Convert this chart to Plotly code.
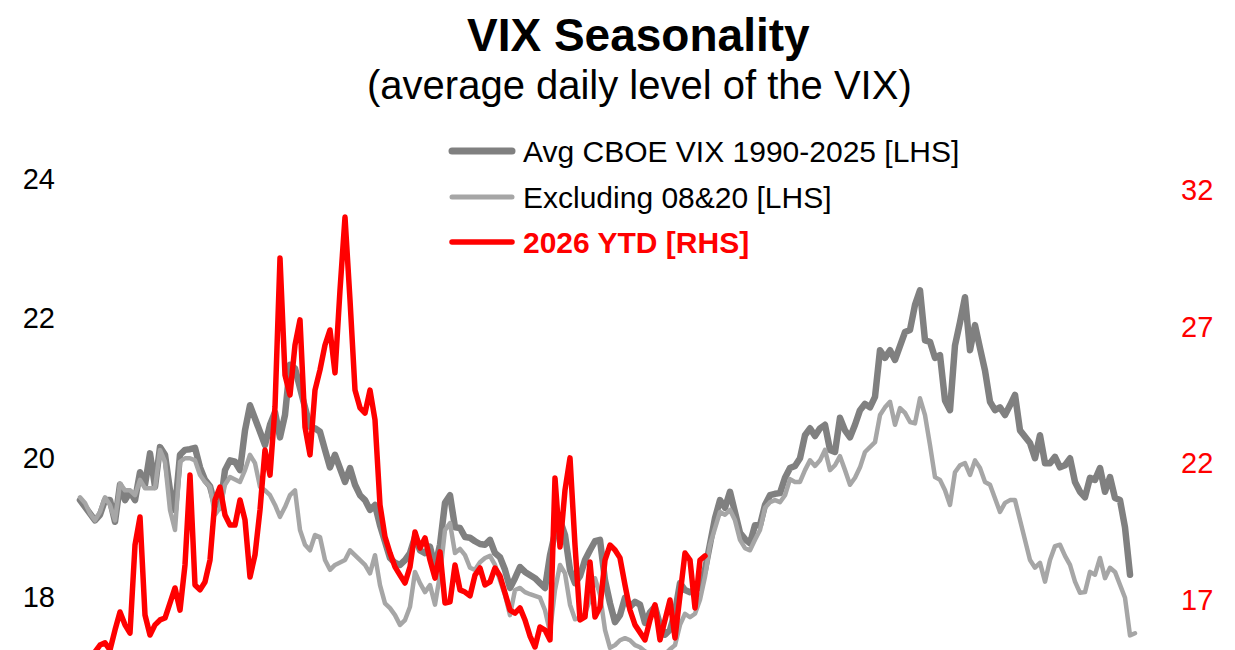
import plotly.graph_objects as go

# Average daily VIX level (LHS), sampled along the year
avg_vix = [
    19.39, 19.28, 19.18, 19.10, 19.18, 19.39, 19.39, 19.08, 19.61, 19.39,
    19.51, 19.39, 19.79, 19.61, 20.06, 19.58, 20.15, 20.04, 19.53, 19.25,
    20.04, 20.11, 20.12, 20.14, 19.86, 19.68, 19.59, 19.32, 19.28, 19.82,
    19.96, 19.94, 19.82, 20.39, 20.75, 20.57, 20.39, 20.18, 20.47, 20.65,
    20.29, 20.61, 21.33, 21.28, 21.00, 20.75, 20.44, 20.42, 20.37, 20.11,
    19.86, 20.04, 19.82, 19.65, 19.85, 19.61, 19.46, 19.39, 19.25, 19.32,
    19.03, 18.75, 18.56, 18.49, 18.46, 18.53, 18.63, 18.86, 18.67, 18.63,
    18.72, 18.43, 18.75, 19.35, 19.46, 19.00, 18.99, 18.86, 18.85, 18.80,
    18.76, 18.75, 18.82, 18.63, 18.57, 18.39, 18.13, 18.27, 18.43, 18.36,
    18.32, 18.27, 18.20, 18.13, 18.60, 18.92, 19.10, 18.89, 18.39, 18.20,
    18.30, 18.53, 18.67, 18.80, 18.82, 18.24, 17.91, 17.64, 17.74, 17.99,
    17.86, 17.93, 17.89, 17.63, 17.78, 17.86, 17.60, 17.46, 17.53, 17.78,
    18.20, 18.10, 18.07, 18.10, 18.14, 18.39, 18.82, 19.13, 19.39, 19.28,
    19.51, 19.18, 18.92, 18.83, 18.77, 19.03, 19.03, 19.32, 19.46, 19.48,
    19.49, 19.71, 19.85, 19.88, 19.99, 20.32, 20.42, 20.31, 20.42, 20.47,
    20.11, 20.08, 20.57, 20.39, 20.29, 20.47, 20.68, 20.77, 20.72, 20.87,
    21.54, 21.43, 21.54, 21.40, 21.61, 21.80, 21.83, 22.19, 22.40, 21.68,
    21.66, 21.43, 21.47, 20.82, 20.68, 21.61, 21.94, 22.30, 21.54, 21.90,
    21.57, 21.25, 20.80, 20.68, 20.72, 20.61, 20.75, 20.90, 20.39, 20.29,
    20.21, 19.99, 20.32, 19.92, 19.92, 20.01, 19.86, 19.89, 19.99, 19.65,
    19.51, 19.43, 19.71, 19.68, 19.85, 19.51, 19.72, 19.42, 19.39, 19.00,
    18.32,
]

# Average excluding 2008 & 2020 (LHS)
excl_0820 = [
    19.43, 19.35, 19.20, 19.10, 19.22, 19.43, 19.32, 19.10, 19.63, 19.53,
    19.53, 19.46, 19.68, 19.56, 19.56, 19.56, 20.11, 19.94, 19.25, 18.96,
    19.94, 19.99, 19.99, 19.96, 19.75, 19.65, 19.58, 19.18, 19.28, 19.61,
    19.72, 19.68, 19.65, 19.82, 20.04, 19.92, 19.58, 19.53, 19.46, 19.32,
    19.15, 19.29, 19.46, 19.53, 18.96, 18.75, 18.67, 18.89, 18.86, 18.53,
    18.39, 18.46, 18.50, 18.53, 18.67, 18.60, 18.53, 18.46, 18.34, 18.60,
    18.17, 17.91, 17.84, 17.74, 17.60, 17.67, 17.86, 18.36, 18.20, 18.07,
    18.17, 17.89, 18.32, 18.96, 19.06, 18.63, 18.69, 18.60, 18.42, 18.39,
    18.50, 18.56, 18.59, 18.46, 18.24, 18.03, 17.74, 18.10, 18.13, 18.07,
    18.04, 18.01, 17.99, 17.81, 17.50, 18.10, 18.46, 18.34, 17.89, 17.68,
    17.70, 17.76, 17.96, 18.27, 18.03, 17.53, 17.27, 17.31, 17.38, 17.41,
    17.38, 17.31, 17.28, 17.22, 17.18, 17.16, 17.16, 17.18, 17.25, 17.31,
    17.60, 17.76, 17.71, 17.76, 17.96, 18.29, 18.75, 19.00, 19.22, 19.18,
    19.25, 19.10, 18.82, 18.70, 18.67, 18.82, 18.96, 19.28, 19.36, 19.39,
    19.36, 19.46, 19.69, 19.65, 19.65, 19.82, 19.96, 19.88, 19.96, 20.11,
    19.82, 19.89, 20.02, 19.82, 19.61, 19.71, 19.86, 20.08, 20.14, 20.22,
    20.61, 20.72, 20.80, 20.47, 20.71, 20.64, 20.51, 20.49, 20.85, 20.61,
    20.18, 19.72, 19.68, 19.53, 19.32, 19.79, 19.89, 19.92, 19.75, 19.96,
    19.85, 19.65, 19.61, 19.43, 19.22, 19.35, 19.39, 19.39, 19.08, 18.82,
    18.53, 18.42, 18.49, 18.22, 18.53, 18.73, 18.75, 18.59, 18.46, 18.22,
    18.06, 18.07, 18.36, 18.32, 18.56, 18.27, 18.42, 18.36, 18.17, 17.99,
    17.45, 17.48,
]

# 2026 year to date (RHS)
ytd_2026 = [
    14.80, 14.80, 14.80, 15.10, 15.35, 15.43, 15.17, 15.90, 16.56, 16.09,
    15.79, 19.01, 20.04, 16.45, 15.72, 16.09, 16.27, 16.34, 16.82, 17.44,
    16.63, 18.28, 21.57, 17.55, 17.37, 17.66, 18.46, 20.66, 21.13, 20.11,
    19.74, 19.74, 20.66, 19.93, 17.84, 18.65, 20.29, 22.49, 21.57, 24.06,
    29.51, 25.23, 24.50, 26.33, 27.25, 23.33, 22.31, 24.68, 25.42, 26.33,
    26.88, 25.31, 28.34, 31.01, 27.98, 24.68, 24.03, 23.84, 24.68, 23.59,
    20.48, 19.31, 18.72, 18.21, 17.91, 17.62, 18.21, 19.49, 18.90, 19.27,
    18.46, 17.80, 18.76, 16.89, 16.93, 18.28, 17.37, 17.29, 17.15, 17.91,
    18.17, 17.55, 17.66, 18.17, 17.88, 17.18, 16.63, 16.52, 16.71, 16.27,
    15.68, 15.28, 16.01, 15.90, 15.54, 21.46, 18.94, 21.02, 22.20, 19.01,
    16.27, 16.38, 18.39, 16.38, 16.74, 18.46, 19.01, 18.83, 18.54, 17.55,
    16.63, 16.09, 15.83, 15.54, 16.27, 16.82, 15.54, 16.27, 17.00, 15.61,
    17.37, 18.72, 18.46, 16.71, 18.46, 18.61,
]

left_ticks = [18, 20, 22, 24]
right_ticks = [17, 22, 27, 32]

names = ["Avg CBOE VIX 1990-2025 [LHS]", "Excluding 08&20 [LHS]", "2026 YTD [RHS]"]
colors = ["#808080", "#A6A6A6", "#FF0000"]
widths = [6.5, 4.5, 5.5]

FONT = "Liberation Sans, Arial, Helvetica, sans-serif"

fig = go.Figure()
fig.add_trace(go.Scatter(x=list(range(len(avg_vix))), y=avg_vix, mode="lines",
                         line=dict(color=colors[0], width=widths[0]),
                         name=names[0], showlegend=False, yaxis="y"))
fig.add_trace(go.Scatter(x=list(range(len(excl_0820))), y=excl_0820, mode="lines",
                         line=dict(color=colors[1], width=widths[1]),
                         name=names[1], showlegend=False, yaxis="y"))
fig.add_trace(go.Scatter(x=list(range(len(ytd_2026))), y=ytd_2026, mode="lines",
                         line=dict(color=colors[2], width=widths[2]),
                         name=names[2], showlegend=False, yaxis="y2"))

# Plot area geometry (pixels) used for placing legend/title in paper coords
L_M, R_M, T_M, B_M = 60, 60, 125, 0
W, H = 1235, 650
pw = W - L_M - R_M
ph = H - T_M - B_M


def px_x(p):
    return (p - L_M) / pw


def px_y(p):
    return (H - B_M - p) / ph


# Custom legend (long line samples as in reference)
leg_rows = [151, 197, 242]
leg_widths = [7, 5, 5.5]
annotations = []
shapes = []
for i, (nm, col, yy) in enumerate(zip(names, colors, leg_rows)):
    shapes.append(dict(type="line", xref="paper", yref="paper",
                       x0=px_x(452), x1=px_x(512), y0=px_y(yy), y1=px_y(yy),
                       line=dict(color=col, width=leg_widths[i]), layer="above"))
    annotations.append(dict(
        xref="paper", yref="paper", x=px_x(521), y=px_y(yy),
        xanchor="left", yanchor="middle", showarrow=False,
        text=("<b>%s</b>" % nm) if i == 2 else nm,
        font=dict(family=FONT, size=30, color="#FF0000" if i == 2 else "#000000")))

annotations.append(dict(xref="paper", yref="paper", x=px_x(638), y=px_y(35),
                        xanchor="center", yanchor="middle", showarrow=False,
                        text="<b>VIX Seasonality</b>",
                        font=dict(family=FONT, size=46, color="#000000")))
annotations.append(dict(xref="paper", yref="paper", x=px_x(640), y=px_y(85),
                        xanchor="center", yanchor="middle", showarrow=False,
                        text="(average daily level of the VIX)",
                        font=dict(family=FONT, size=40, color="#000000")))

fig.update_layout(
    width=W, height=H,
    margin=dict(l=L_M, r=R_M, t=T_M, b=B_M, pad=0),
    paper_bgcolor="white", plot_bgcolor="white",
    showlegend=False,
    font=dict(family=FONT),
    xaxis=dict(range=[-4, 219], showticklabels=False, showgrid=False,
               zeroline=False, showline=False, ticks=""),
    yaxis=dict(range=[17.24, 24.77], tickvals=left_ticks,
               ticktext=[str(v) for v in left_ticks],
               showgrid=False, zeroline=False, showline=False, ticks="",
               ticklabelstandoff=4,
               tickfont=dict(family=FONT, size=29, color="#000000")),
    yaxis2=dict(range=[15.17, 34.38], tickvals=right_ticks,
                ticktext=[str(v) for v in right_ticks],
                overlaying="y", side="right",
                showgrid=False, zeroline=False, showline=False, ticks="",
                ticklabelstandoff=5,
                tickfont=dict(family=FONT, size=29, color="#FF0000")),
    annotations=annotations,
    shapes=shapes,
)

post_js = (
    "var s=document.createElement('style');"
    "s.textContent='.scatterlayer path.js-line{stroke-linejoin:round!important;stroke-linecap:round!important;}"
    " .layer-above path{stroke-linecap:round!important;}';"
    "document.head.appendChild(s);"
)

fig.write_html("out.html", post_script=post_js)
